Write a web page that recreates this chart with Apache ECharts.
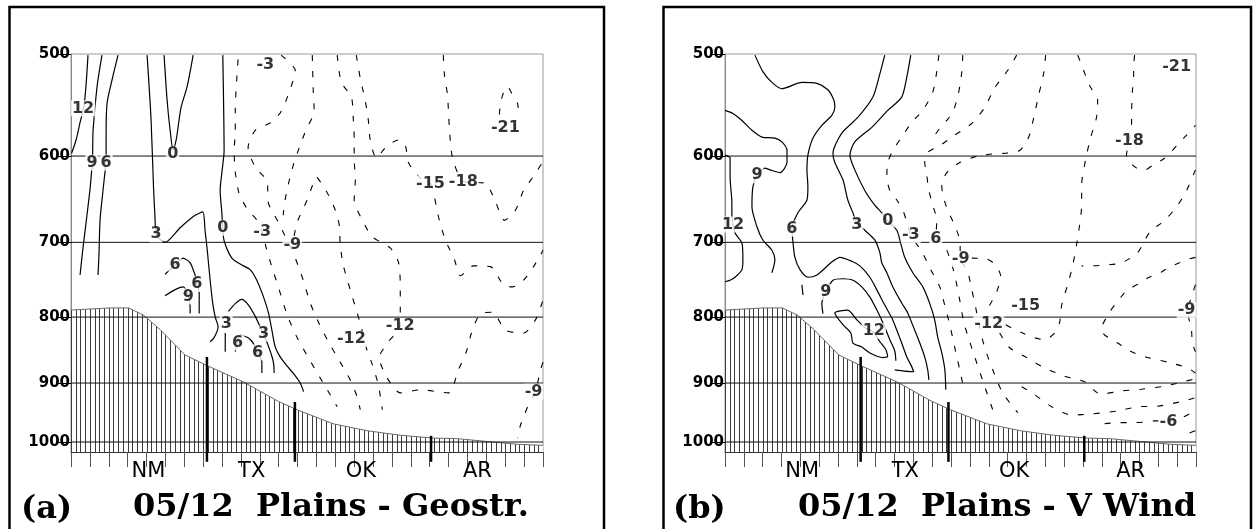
<!DOCTYPE html>
<html>
<head>
<meta charset="utf-8">
<script src="https://cdn.jsdelivr.net/npm/echarts@6/dist/echarts.min.js"></script>
<style>
html,body{margin:0;padding:0;background:#fff;}
#c{width:1253px;height:529px;}
</style>
</head>
<body>
<div id="c"></div>
<script>
// ---------------- axes / annotations ----------------
const PRESSURE_TICKS = [500, 600, 700, 800, 900, 1000];
const Y_MIN = 500, Y_MAX = 1018;
const X_MIN = 0, X_MAX = 25;
const X_TICKS = [0,1,2,3,4,5,6,7,8,9,10,11,12,13,14,15,16,17,18,19,20,21,22,23,24,25];
const STATE_NAMES = ['NM', 'TX', 'OK', 'AR'];
const STATE_POS = [4.1, 9.57, 15.35, 21.53];
const BORDER_X = [7.2, 11.86, 19.07];
const BORDER_TOP = [859, 931, 989];
const BORDER_BOTTOM = 1036;
const PANEL_TAGS = ['(a)', '(b)'];
const PANEL_TITLES = ['05/12  Plains - Geostr.', '05/12  Plains - V Wind'];

// terrain (surface pressure, hPa) along the section
const TERRAIN = [[0,790],[2.07,787],[3.04,787],[3.83,797],[4.72,818],[6.04,856],[7.25,873],[9.12,898],[10.98,930],[11.97,944],[13.89,968],[15.68,980],[17.44,988],[19.2,993],[20.45,994],[22.04,999],[23.63,1004],[25,1006]];

// ---------------- panel (a): geostrophic wind contours ----------------
const A_POS12 = [[0.90,501],[0.80,528],[0.69,548],[0.48,565],[0.27,583],[0.03,597]];
const A_POS9 = [[1.64,501],[1.38,530],[1.17,573],[1.14,601],[1.03,632],[0.85,666],[0.64,706],[0.48,742]];
const A_POS6 = [[2.49,501],[2.17,524],[1.91,546],[1.86,576],[1.86,601],[1.70,637],[1.54,672],[1.48,716],[1.43,742]];
const A_ZERO_V = [[4.93,501],[5.09,543],[5.25,573],[5.41,594],[5.57,583],[5.67,570],[5.83,550],[6.15,530],[6.47,501]];
const A_POS3 = [[4.03,501],[4.24,562],[4.37,634],[4.45,670],[4.51,690],[4.98,700],[5.78,682],[6.57,667],[6.98,663],[7.10,685],[7.23,713],[7.37,749],[7.51,781],[7.64,800],[7.79,814],[7.73,821],[7.55,831],[7.37,836]];
const A_POS3_TAIL = [[8.17,823],[8.17,851]];
const A_ZERO = [[8.04,501],[8.08,543],[8.11,594],[7.99,618],[7.90,638],[7.99,664],[8.04,682],[8.11,698],[8.52,720],[9.05,729],[9.49,735],[9.84,749],[10.20,772],[10.46,794],[10.64,819],[10.82,844],[11.08,859],[11.44,873],[11.79,885],[12.14,900],[12.32,914]];
const A_POS3_LOW = [[8.34,792],[8.70,781],[9.05,775],[9.40,783],[9.76,799],[10.02,814],[10.20,824],[10.46,843],[10.64,858],[10.73,869],[10.76,884]];
const A_POS6_LOW = [[8.70,851],[8.80,838],[8.96,826],[9.38,830],[9.65,838],[9.86,851],[10.11,867],[10.11,884]];
const A_POS6_UP = [[4.98,741],[5.25,735],[5.51,729],[5.94,720],[6.31,726],[6.47,735],[6.57,742],[6.66,754],[6.79,766],[6.79,795]];
const A_POS9_UP = [[4.98,770],[5.57,761],[5.94,758],[6.22,771],[6.31,786],[6.31,795]];
const A_NEG3 = [[8.85,505],[8.75,531],[8.70,553],[8.70,575],[8.64,594],[8.70,617],[8.91,642],[9.38,661],[9.86,673],[10.13,687],[10.34,707],[10.66,733],[11.03,762],[11.45,797],[11.98,830],[12.57,860],[13.20,892],[13.73,919],[14.10,939]];
const A_NEG6 = [[11.13,501],[11.88,515],[11.56,535],[11.13,554],[10.60,565],[9.76,573],[9.38,591],[9.76,612],[10.39,628],[10.45,652],[10.98,675],[11.40,695],[11.88,720],[12.30,749],[12.67,780],[13.10,807],[13.63,836],[14.26,867],[14.79,895],[15.16,923],[15.32,944]];
const A_NEG9 = [[12.78,501],[12.83,533],[12.88,554],[12.46,572],[12.09,591],[11.77,610],[11.50,632],[11.29,655],[11.24,667]];
const A_NEG9B = [[11.82,692],[11.98,675],[12.51,649],[12.83,630],[12.99,623],[13.20,628],[13.63,643],[14.00,661],[14.21,679],[14.26,703],[14.42,729],[14.79,762],[15.11,790],[15.38,815],[15.64,845],[15.96,871],[16.28,903],[16.49,944]];
const A_NEG12 = [[14.10,501],[14.32,526],[14.85,540],[14.95,561],[15.00,582],[15.00,603],[15.06,626],[15.00,649],[15.48,675],[15.96,693],[16.91,707],[17.34,725],[17.44,755],[17.44,790],[17.44,813],[16.81,836],[16.33,860],[16.75,892],[17.44,916],[18.50,911],[19.99,916],[20.52,879],[20.94,851],[21.21,823],[21.69,795],[22.32,793],[23.01,819],[23.97,823],[24.60,804],[25.0,776]];
const A_NEG15 = [[15.11,501],[15.32,522],[15.59,544],[15.75,563],[15.85,583],[16.17,602],[16.70,590],[17.34,583],[17.71,589],[17.87,607],[18.50,624],[19.04,630],[19.25,646],[19.51,673],[19.83,697],[20.31,722],[20.63,743],[21.31,730],[22.22,731],[22.90,755],[23.38,758],[23.97,749],[24.50,731],[24.87,716],[25.0,710]];
const A_NEG18 = [[19.72,501],[19.78,519],[19.94,538],[20.04,570],[20.20,601],[20.78,628],[21.95,630],[22.48,651],[22.96,673],[23.54,661],[23.97,638],[24.50,622],[25.0,606]];
const A_NEG21 = [[22.69,557],[22.75,546],[22.90,536],[23.12,530],[23.33,536],[23.65,546],[23.70,557]];
const A_NEG9R = [[25.0,867],[24.87,879],[24.60,914],[24.23,936],[23.81,970],[23.65,993]];
const A_LABELS = [['12',0.64,551],['9',1.11,607],['6',1.86,607],['0',5.39,598],['3',4.51,690],['3',8.22,810],['0',8.04,682],['3',10.20,824],['6',8.82,837],['6',9.88,852],['6',5.51,729],['6',6.66,754],['9',6.22,771],['-3',10.13,687],['-3',10.29,510],['-9',11.72,703],['-12',14.85,832],['-12',17.44,813],['-15',19.04,630],['-18',20.78,628],['-21',23.01,570],['-9',24.5,914]];

// ---------------- panel (b): V wind contours ----------------
const B_POS12L = [[0,599],[0.27,602],[0.27,623],[0.36,649],[0.37,668],[0.53,688],[0.90,701],[0.95,722],[0.90,735],[0.53,745],[0.27,749],[0,751]];
const B_POS9 = [[0,553],[0.42,556],[0.90,563],[1.43,573],[1.96,580],[2.65,581],[3.02,585],[3.29,594],[3.29,607],[2.92,618],[2.39,615],[2.12,613],[1.70,621],[1.48,634],[1.43,657],[1.70,681],[2.01,697],[2.49,710],[2.65,722],[2.49,739]];
const B_POS6 = [[1.59,501],[2.01,516],[2.49,526],[3.02,532],[4.08,526],[4.88,527],[5.46,533],[5.78,543],[5.83,550],[5.67,558],[5.14,568],[4.67,581],[4.40,599],[4.35,615],[4.40,634],[4.35,649],[3.87,664],[3.55,683],[3.61,700],[3.71,719],[3.98,735],[4.40,745],[4.88,742],[5.67,725],[6.10,719],[6.73,724],[7.16,730],[7.69,745],[8.06,762],[8.48,783],[8.85,801],[9.12,819],[9.38,838],[9.65,859],[9.91,874],[10.02,882],[9.54,881],[9.01,879]];
const B_POS9B = [[5.20,795],[5.14,781],[5.35,765],[5.73,749],[6.26,747],[6.79,749],[7.26,758],[7.69,772],[8.06,790],[8.38,808],[8.75,833],[9.01,850],[9.07,865]];
const B_POS9C = [[4.08,755],[4.14,769]];
const B_POS12 = [[8.64,859],[8.38,860],[7.69,853],[7.26,844],[6.79,838],[6.68,823],[6.26,811],[5.83,794],[6.52,790],[7.00,804],[7.48,816],[7.85,821],[8.22,836],[8.54,848],[8.64,859]];
const B_POS3 = [[8.48,501],[8.22,518],[7.85,540],[7.05,560],[6.20,576],[5.73,597],[5.83,607],[6.26,626],[6.52,649],[6.79,664],[7.00,676],[7.42,685],[7.95,697],[8.22,713],[8.32,726],[8.59,739],[8.91,758],[9.38,780],[9.70,794],[10.07,819],[10.34,838],[10.60,859],[10.76,879],[10.82,895]];
const B_ZERO = [[9.86,501],[9.65,521],[9.38,540],[8.64,553],[7.79,570],[6.89,585],[6.63,599],[6.89,615],[7.42,638],[7.95,655],[8.32,664],[8.64,674],[9.12,685],[9.28,697],[9.54,719],[9.97,739],[10.50,758],[10.87,781],[11.13,804],[11.29,829],[11.51,853],[11.67,879],[11.72,911]];
const B_NEG3 = [[11.35,501],[11.24,516],[11.03,535],[10.50,553],[9.91,565],[9.38,580],[8.91,594],[8.64,607],[8.59,623],[8.75,638],[9.12,649],[9.44,661],[9.65,675],[9.86,691],[10.45,712],[10.92,735],[11.40,758],[11.66,783],[11.93,811],[12.19,844],[12.46,879],[12.72,916]];
const B_ARC = [[12.62,501],[12.57,516],[12.46,530],[12.30,543],[12.09,555],[11.77,563],[11.40,571],[11.03,581]];
const B_NEG6 = [[15.48,501],[15.00,515],[14.32,531],[13.79,550],[13.10,566],[12.19,578],[11.40,589],[10.76,596],[10.60,606],[10.71,621],[10.82,638],[11.03,655],[11.24,673],[11.19,696],[11.61,702],[11.93,720],[12.19,742],[12.46,776],[12.67,807],[12.99,836],[13.36,868],[13.79,906],[14.21,944]];
const B_NEG9 = [[17.02,501],[16.91,518],[16.65,538],[16.38,561],[16.12,580],[15.64,594],[14.85,597],[14.05,598],[13.41,600],[12.46,607],[11.82,617],[11.50,630],[11.56,643],[11.82,661],[12.19,679],[12.46,697],[12.51,721],[12.88,738],[13.10,762],[13.31,787],[13.52,816],[13.79,845],[14.21,879],[14.74,916],[15.54,949]];
const B_NEG12A = [[13.10,720],[13.89,721],[14.32,728],[14.63,743],[14.42,765],[14.05,783],[13.79,794]];
const B_NEG12B = [[14.90,811],[15.22,816],[15.80,823],[16.28,829],[16.97,833],[17.50,823],[17.76,808],[17.87,783],[18.19,755],[18.45,730],[18.66,703],[18.82,679],[18.93,655],[18.93,632],[19.14,604],[19.40,581],[19.72,560],[19.78,543],[19.35,529],[18.93,510],[18.72,501]];
const B_NEG15 = [[24.97,615],[24.50,638],[23.97,657],[23.33,673],[22.53,688],[21.90,713],[21.05,726],[20.15,729],[19.35,730],[18.93,730]];
const B_NEG18 = [[21.74,501],[21.69,512],[21.69,524],[21.63,533],[21.58,556],[21.58,565],[21.47,584],[21.31,599],[21.37,604],[21.84,613],[22.27,615],[22.90,607],[23.22,604],[23.75,594],[24.02,588],[24.50,578],[24.97,568]];
const B_NEG9R = [[24.97,755],[24.76,772],[24.55,790],[24.76,819],[24.81,838],[24.97,851]];
const B_NEGC = [[24.97,719],[24.50,722],[24.12,726],[23.49,733],[23.17,738],[22.43,746],[22.16,751],[21.58,759],[21.21,766],[20.68,783],[20.41,793],[20.04,811],[19.99,819],[20.15,826],[20.57,833],[20.84,838],[21.58,851],[22.43,860],[23.49,867],[24.55,876],[24.97,884]];
const B_NEGD = [[14.58,823],[15.11,845],[16.01,860],[16.97,876],[18.03,889],[19.09,898],[19.94,918],[21.00,913],[22.11,910],[23.33,905],[24.34,898],[24.97,893]];
const B_NEGE = [[15.75,906],[16.44,919],[17.34,939],[18.40,953],[19.46,951],[20.84,946],[21.90,939],[22.96,938],[24.12,931],[24.97,924]];
const B_NEG6B = [[20.15,968],[20.84,966],[21.58,966],[22.27,965],[22.80,963],[23.54,963],[24.34,956],[24.66,951],[24.97,948]];
const B_NEGF = [[24.66,984],[24.97,980]];
const B_LABELS = [['12',0.43,678],['9',1.70,621],['6',3.55,683],['9',5.35,765],['12',7.9,820],['3',7.0,678],['0',8.64,674],['-3',9.86,691],['6',11.19,696],['-9',12.51,721],['-12',14.0,810],['-15',15.96,784],['-18',21.47,584],['-21',23.97,512],['-9',24.50,790],['-6',23.54,964]];

const SOLID = [
  [A_POS12, A_POS9, A_POS6, A_ZERO_V, A_POS3, A_POS3_TAIL, A_ZERO, A_POS3_LOW, A_POS6_LOW, A_POS6_UP, A_POS9_UP],
  [B_POS12L, B_POS9, B_POS6, B_POS9B, B_POS9C, B_POS12, B_POS3, B_ZERO]
];
const DASHED = [
  [A_NEG3, A_NEG6, A_NEG9, A_NEG9B, A_NEG12, A_NEG15, A_NEG18, A_NEG21, A_NEG9R],
  [B_NEG3, B_ARC, B_NEG6, B_NEG9, B_NEG12A, B_NEG12B, B_NEG15, B_NEG18, B_NEG9R, B_NEGC, B_NEGD, B_NEGE, B_NEG6B, B_NEGF]
];
const LABELS = [A_LABELS, B_LABELS];

// ---------------- build chart ----------------
const chart = echarts.init(document.getElementById('c'), null, {renderer: 'canvas'});
const GRID_LEFT = [71, 725];
const GRID_W = [472, 471];

const grids = [0, 1].map(i => ({
  left: GRID_LEFT[i], top: 54, width: GRID_W[i], height: 398,
  show: true, borderColor: '#9a9a9a', borderWidth: 1, backgroundColor: 'transparent'
}));

const xAxes = [0, 1].map(i => ({
  type: 'value', gridIndex: i, min: X_MIN, max: X_MAX, interval: 1,
  axisLine: {show: true, lineStyle: {color: '#333', width: 1}},
  axisTick: {show: true, length: 15, inside: false, customValues: X_TICKS, lineStyle: {color: '#555', width: 1}},
  axisLabel: {
    show: true, customValues: STATE_POS, margin: 9,
    fontFamily: 'DejaVu Sans', fontSize: 21, color: '#000',
    formatter: v => {
      let best = 0;
      STATE_POS.forEach((s, k) => { if (Math.abs(s - v) < Math.abs(STATE_POS[best] - v)) best = k; });
      return STATE_NAMES[best];
    }
  },
  splitLine: {show: false}
}));

const yAxes = [0, 1].map(i => ({
  type: 'log', logBase: 10, gridIndex: i, min: Y_MIN, max: Y_MAX, inverse: true,
  axisLine: {show: true, lineStyle: {color: '#8a8a8a', width: 1}},
  axisTick: {show: true, length: 13, inside: false, customValues: PRESSURE_TICKS, lineStyle: {color: '#000', width: 1}},
  axisLabel: {
    show: true, customValues: PRESSURE_TICKS, margin: 1,
    fontFamily: 'DejaVu Sans', fontWeight: 'bold', fontSize: 15, color: '#000',
    formatter: v => String(Math.round(v))
  },
  splitLine: {show: false}, minorTick: {show: false}
}));

const series = [];
[0, 1].forEach(gi => {
  // terrain (hatched)
  series.push({
    id: 'terrain' + gi, type: 'line', xAxisIndex: gi, yAxisIndex: gi, data: TERRAIN,
    symbol: 'none', silent: true, z: 1,
    lineStyle: {color: '#6a6a6a', width: 1},
    areaStyle: {color: '#fff', origin: 'end', opacity: 1}
  });
  // pressure grid lines
  PRESSURE_TICKS.slice(1).forEach(p => {
    series.push({
      type: 'line', xAxisIndex: gi, yAxisIndex: gi, data: [[X_MIN, p], [X_MAX, p]],
      symbol: 'none', silent: true, z: 2, lineStyle: {color: '#111', width: 1}
    });
  });
  // solid contours (>= 0)
  SOLID[gi].forEach(pts => series.push({
    type: 'line', xAxisIndex: gi, yAxisIndex: gi, data: pts, symbol: 'none', silent: true,
    smooth: 0.25, z: 3, lineStyle: {color: '#000', width: 1.2, type: 'solid'}
  }));
  // dashed contours (< 0)
  DASHED[gi].forEach(pts => series.push({
    type: 'line', xAxisIndex: gi, yAxisIndex: gi, data: pts, symbol: 'none', silent: true,
    smooth: 0.25, z: 3, lineStyle: {color: '#000', width: 1.1, type: [6, 10]}
  }));
  // state borders
  BORDER_X.forEach((bx, k) => series.push({
    type: 'line', xAxisIndex: gi, yAxisIndex: gi, data: [[bx, BORDER_TOP[k]], [bx, BORDER_BOTTOM]],
    symbol: 'none', silent: true, clip: false, z: 5, lineStyle: {color: '#000', width: 2.5}
  }));
  // contour labels
  series.push({
    type: 'scatter', xAxisIndex: gi, yAxisIndex: gi, symbolSize: 1, silent: true, z: 10,
    itemStyle: {color: 'rgba(0,0,0,0)'},
    data: LABELS[gi].map(l => ({name: l[0], value: [l[1], l[2]]})),
    label: {
      show: true, position: 'inside', formatter: p => p.name,
      fontFamily: 'DejaVu Sans', fontWeight: 'bold', fontSize: 16, color: '#000',
      backgroundColor: '#fff', padding: [0, 1]
    }
  });
});

const TAG_X = [21, 673], TITLE_X = [133, 798];
const graphic = [];
graphic.push({type: 'rect', silent: true, shape: {x: 9.5, y: 7, width: 594.5, height: 535}, style: {fill: 'none', stroke: '#000', lineWidth: 2.5}});
graphic.push({type: 'rect', silent: true, shape: {x: 663.5, y: 7, width: 587.5, height: 535}, style: {fill: 'none', stroke: '#000', lineWidth: 2.5}});
[0, 1].forEach(i => {
  graphic.push({type: 'text', silent: true, x: TAG_X[i], y: 510,
    style: {text: PANEL_TAGS[i], font: 'bold 32px "DejaVu Serif"', fill: '#000', verticalAlign: 'middle', textVerticalAlign: 'middle', align: 'left'}});
  graphic.push({type: 'text', silent: true, x: TITLE_X[i], y: 508,
    style: {text: PANEL_TITLES[i], font: 'bold 32px "DejaVu Serif"', fill: '#000', verticalAlign: 'middle', textVerticalAlign: 'middle', align: 'left'}});
});

chart.setOption({
  animation: false,
  backgroundColor: '#fff',
  grid: grids, xAxis: xAxes, yAxis: yAxes, series: series, graphic: graphic
});

// hatch pattern for the terrain, placed on the x-axis scale
const HATCH_STEP = 0.25;
(function buildHatch() {
  const W = chart.getWidth(), H = chart.getHeight();
  const cv = document.createElement('canvas');
  cv.width = W; cv.height = H;
  const ctx = cv.getContext('2d');
  ctx.fillStyle = '#fff'; ctx.fillRect(0, 0, W, H);
  ctx.fillStyle = '#3c3c3c';
  [0, 1].forEach(gi => {
    const n = Math.round((X_MAX - X_MIN) / HATCH_STEP);
    for (let k = 0; k <= n; k++) {
      const px = chart.convertToPixel({xAxisIndex: gi}, X_MIN + k * HATCH_STEP);
      ctx.fillRect(Math.round(px), 0, 1, H);
    }
  });
  chart.setOption({series: [0, 1].map(gi => ({id: 'terrain' + gi, areaStyle: {color: {image: cv, repeat: 'repeat'}, origin: 'end', opacity: 1}}))});
})();
</script>
</body>
</html>
